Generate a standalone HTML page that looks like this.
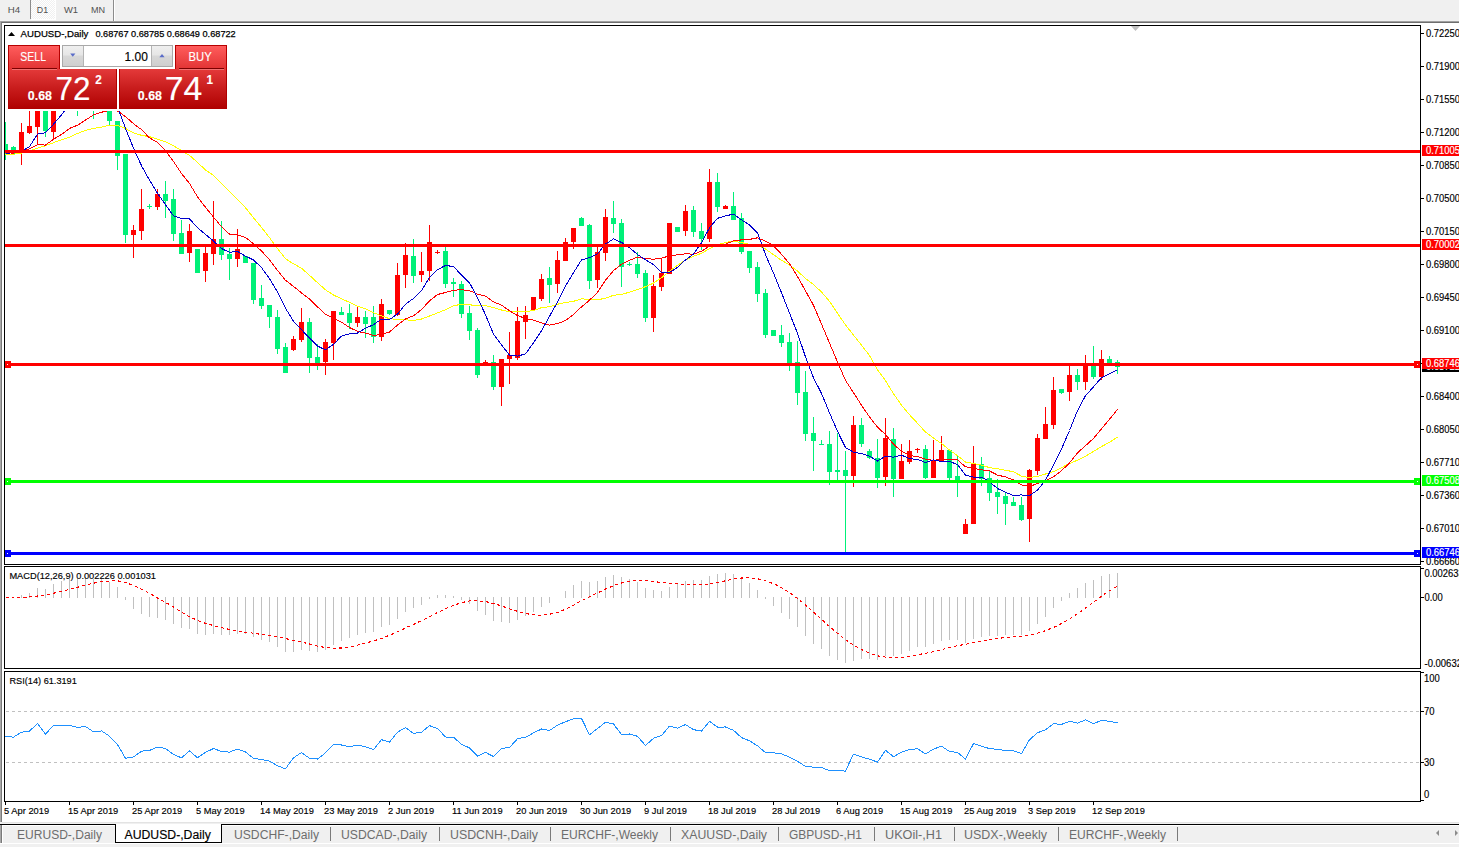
<!DOCTYPE html>
<html><head><meta charset="utf-8"><style>
html,body{margin:0;padding:0;background:#f0f0f0;width:1459px;height:847px;overflow:hidden}
svg{display:block;font-family:"Liberation Sans", sans-serif}
</style></head><body>
<svg width="1459" height="847" viewBox="0 0 1459 847">
<defs>
<pattern id="dith" width="2" height="2" patternUnits="userSpaceOnUse"><rect width="2" height="2" fill="#f0f0f0"/><rect width="1" height="1" fill="#fff"/><rect x="1" y="1" width="1" height="1" fill="#fff"/></pattern>
<clipPath id="clipMain"><rect x="5" y="26" width="1415" height="538"/></clipPath>
<clipPath id="clipMacd"><rect x="5" y="567" width="1415" height="101"/></clipPath>
<clipPath id="clipRsi"><rect x="5" y="672" width="1415" height="129"/></clipPath>
</defs>
<rect x="0" y="0" width="1459" height="847" fill="#f0f0f0"/>
<rect x="31" y="0" width="24" height="19" fill="url(#dith)"/>
<rect x="55" y="0" width="1" height="20" fill="#ffffff"/>
<rect x="31" y="19" width="25" height="1" fill="#ffffff"/>
<rect x="30" y="0" width="1" height="19" fill="#8c8c8c"/>
<rect x="113" y="0" width="1" height="21" fill="#8c8c8c"/>
<rect x="114" y="0" width="1" height="21" fill="#ffffff"/>
<text x="7.8" y="13.2" font-size="9.8" fill="#505050" font-weight="normal" text-anchor="start" textLength="12.4" lengthAdjust="spacingAndGlyphs">H4</text>
<text x="36.8" y="13.2" font-size="9.8" fill="#505050" font-weight="normal" text-anchor="start" textLength="11.3" lengthAdjust="spacingAndGlyphs">D1</text>
<text x="63.9" y="13.2" font-size="9.8" fill="#505050" font-weight="normal" text-anchor="start" textLength="14.1" lengthAdjust="spacingAndGlyphs">W1</text>
<text x="91" y="13.2" font-size="9.8" fill="#505050" font-weight="normal" text-anchor="start" textLength="14.1" lengthAdjust="spacingAndGlyphs">MN</text>
<rect x="0" y="21" width="1459" height="1" fill="#a0a0a0"/>
<rect x="0" y="22" width="1459" height="1" fill="#6e6e6e"/>
<rect x="0" y="21" width="1" height="801" fill="#a8a8a8"/>
<rect x="1" y="22" width="1" height="800" fill="#7a7a7a"/>
<rect x="2" y="23" width="1457" height="799" fill="#ffffff"/>
<g clip-path="url(#clipMain)">
<polygon points="1131,26 1140,26 1135.5,31" fill="#c0c0c0"/>
<rect x="5" y="122" width="1" height="38" fill="#00f078"/>
<rect x="3" y="144" width="5" height="7" fill="#00f078"/>
<rect x="13" y="146" width="1" height="8" fill="#00f078"/>
<rect x="11" y="147" width="5" height="7" fill="#00f078"/>
<rect x="21" y="123" width="1" height="42" fill="#ff0000"/>
<rect x="19" y="132" width="5" height="20" fill="#ff0000"/>
<rect x="29" y="100" width="1" height="34" fill="#ff0000"/>
<rect x="27" y="126" width="5" height="7" fill="#ff0000"/>
<rect x="37" y="60" width="1" height="85" fill="#ff0000"/>
<rect x="35" y="89" width="5" height="38" fill="#ff0000"/>
<rect x="45" y="60" width="1" height="77" fill="#00f078"/>
<rect x="43" y="89" width="5" height="42" fill="#00f078"/>
<rect x="53" y="60" width="1" height="79" fill="#ff0000"/>
<rect x="51" y="84" width="5" height="48" fill="#ff0000"/>
<rect x="109" y="60" width="1" height="65" fill="#00f078"/>
<rect x="107" y="102" width="5" height="19" fill="#00f078"/>
<rect x="117" y="121" width="1" height="49" fill="#00f078"/>
<rect x="115" y="121" width="5" height="35" fill="#00f078"/>
<rect x="125" y="154" width="1" height="89" fill="#00f078"/>
<rect x="123" y="154" width="5" height="81" fill="#00f078"/>
<rect x="133" y="225" width="1" height="33" fill="#ff0000"/>
<rect x="131" y="230" width="5" height="5" fill="#ff0000"/>
<rect x="141" y="189" width="1" height="51" fill="#ff0000"/>
<rect x="139" y="209" width="5" height="22" fill="#ff0000"/>
<rect x="149" y="204" width="1" height="5" fill="#00f078"/>
<rect x="147" y="206" width="5" height="1" fill="#00f078"/>
<rect x="157" y="189" width="1" height="21" fill="#ff0000"/>
<rect x="155" y="194" width="5" height="13" fill="#ff0000"/>
<rect x="165" y="181" width="1" height="37" fill="#00f078"/>
<rect x="163" y="194" width="5" height="7" fill="#00f078"/>
<rect x="173" y="189" width="1" height="52" fill="#00f078"/>
<rect x="171" y="199" width="5" height="35" fill="#00f078"/>
<rect x="181" y="220" width="1" height="34" fill="#00f078"/>
<rect x="179" y="233" width="5" height="21" fill="#00f078"/>
<rect x="189" y="224" width="1" height="38" fill="#ff0000"/>
<rect x="187" y="231" width="5" height="22" fill="#ff0000"/>
<rect x="197" y="249" width="1" height="24" fill="#00f078"/>
<rect x="195" y="249" width="5" height="24" fill="#00f078"/>
<rect x="205" y="247" width="1" height="35" fill="#ff0000"/>
<rect x="203" y="253" width="5" height="18" fill="#ff0000"/>
<rect x="213" y="201" width="1" height="64" fill="#ff0000"/>
<rect x="211" y="239" width="5" height="15" fill="#ff0000"/>
<rect x="221" y="221" width="1" height="39" fill="#00f078"/>
<rect x="219" y="239" width="5" height="16" fill="#00f078"/>
<rect x="229" y="248" width="1" height="32" fill="#00f078"/>
<rect x="227" y="254" width="5" height="5" fill="#00f078"/>
<rect x="237" y="229" width="1" height="38" fill="#ff0000"/>
<rect x="235" y="249" width="5" height="10" fill="#ff0000"/>
<rect x="245" y="256" width="1" height="7" fill="#00f078"/>
<rect x="243" y="256" width="5" height="7" fill="#00f078"/>
<rect x="253" y="263" width="1" height="41" fill="#00f078"/>
<rect x="251" y="263" width="5" height="37" fill="#00f078"/>
<rect x="261" y="285" width="1" height="24" fill="#00f078"/>
<rect x="259" y="298" width="5" height="8" fill="#00f078"/>
<rect x="269" y="305" width="1" height="23" fill="#00f078"/>
<rect x="267" y="305" width="5" height="12" fill="#00f078"/>
<rect x="277" y="310" width="1" height="44" fill="#00f078"/>
<rect x="275" y="317" width="5" height="32" fill="#00f078"/>
<rect x="285" y="343" width="1" height="30" fill="#00f078"/>
<rect x="283" y="347" width="5" height="26" fill="#00f078"/>
<rect x="293" y="336" width="1" height="15" fill="#ff0000"/>
<rect x="291" y="339" width="5" height="11" fill="#ff0000"/>
<rect x="301" y="308" width="1" height="34" fill="#ff0000"/>
<rect x="299" y="322" width="5" height="18" fill="#ff0000"/>
<rect x="309" y="318" width="1" height="55" fill="#00f078"/>
<rect x="307" y="322" width="5" height="36" fill="#00f078"/>
<rect x="317" y="344" width="1" height="26" fill="#00f078"/>
<rect x="315" y="357" width="5" height="6" fill="#00f078"/>
<rect x="325" y="339" width="1" height="36" fill="#ff0000"/>
<rect x="323" y="342" width="5" height="20" fill="#ff0000"/>
<rect x="333" y="311" width="1" height="49" fill="#ff0000"/>
<rect x="331" y="311" width="5" height="32" fill="#ff0000"/>
<rect x="341" y="307" width="1" height="8" fill="#00f078"/>
<rect x="339" y="312" width="5" height="3" fill="#00f078"/>
<rect x="349" y="304" width="1" height="25" fill="#00f078"/>
<rect x="347" y="313" width="5" height="10" fill="#00f078"/>
<rect x="357" y="307" width="1" height="20" fill="#ff0000"/>
<rect x="355" y="317" width="5" height="6" fill="#ff0000"/>
<rect x="365" y="311" width="1" height="27" fill="#00f078"/>
<rect x="363" y="317" width="5" height="7" fill="#00f078"/>
<rect x="373" y="306" width="1" height="37" fill="#00f078"/>
<rect x="371" y="317" width="5" height="20" fill="#00f078"/>
<rect x="381" y="299" width="1" height="42" fill="#ff0000"/>
<rect x="379" y="304" width="5" height="33" fill="#ff0000"/>
<rect x="389" y="310" width="1" height="5" fill="#00f078"/>
<rect x="387" y="310" width="5" height="4" fill="#00f078"/>
<rect x="397" y="263" width="1" height="53" fill="#ff0000"/>
<rect x="395" y="275" width="5" height="40" fill="#ff0000"/>
<rect x="405" y="243" width="1" height="45" fill="#ff0000"/>
<rect x="403" y="255" width="5" height="20" fill="#ff0000"/>
<rect x="413" y="239" width="1" height="44" fill="#00f078"/>
<rect x="411" y="256" width="5" height="20" fill="#00f078"/>
<rect x="421" y="252" width="1" height="30" fill="#ff0000"/>
<rect x="419" y="271" width="5" height="4" fill="#ff0000"/>
<rect x="429" y="225" width="1" height="56" fill="#ff0000"/>
<rect x="427" y="242" width="5" height="29" fill="#ff0000"/>
<rect x="437" y="250" width="1" height="4" fill="#ff0000"/>
<rect x="435" y="252" width="5" height="1" fill="#ff0000"/>
<rect x="445" y="247" width="1" height="41" fill="#00f078"/>
<rect x="443" y="251" width="5" height="33" fill="#00f078"/>
<rect x="453" y="278" width="1" height="19" fill="#00f078"/>
<rect x="451" y="282" width="5" height="2" fill="#00f078"/>
<rect x="461" y="281" width="1" height="37" fill="#00f078"/>
<rect x="459" y="284" width="5" height="30" fill="#00f078"/>
<rect x="469" y="306" width="1" height="34" fill="#00f078"/>
<rect x="467" y="313" width="5" height="18" fill="#00f078"/>
<rect x="477" y="328" width="1" height="50" fill="#00f078"/>
<rect x="475" y="330" width="5" height="45" fill="#00f078"/>
<rect x="485" y="360" width="1" height="5" fill="#ff0000"/>
<rect x="483" y="362" width="5" height="3" fill="#ff0000"/>
<rect x="493" y="355" width="1" height="35" fill="#00f078"/>
<rect x="491" y="362" width="5" height="25" fill="#00f078"/>
<rect x="501" y="359" width="1" height="47" fill="#ff0000"/>
<rect x="499" y="359" width="5" height="28" fill="#ff0000"/>
<rect x="509" y="332" width="1" height="52" fill="#ff0000"/>
<rect x="507" y="355" width="5" height="4" fill="#ff0000"/>
<rect x="517" y="307" width="1" height="53" fill="#ff0000"/>
<rect x="515" y="321" width="5" height="37" fill="#ff0000"/>
<rect x="525" y="306" width="1" height="33" fill="#ff0000"/>
<rect x="523" y="315" width="5" height="7" fill="#ff0000"/>
<rect x="533" y="297" width="1" height="13" fill="#ff0000"/>
<rect x="531" y="297" width="5" height="13" fill="#ff0000"/>
<rect x="541" y="274" width="1" height="27" fill="#ff0000"/>
<rect x="539" y="279" width="5" height="20" fill="#ff0000"/>
<rect x="549" y="267" width="1" height="36" fill="#00f078"/>
<rect x="547" y="278" width="5" height="7" fill="#00f078"/>
<rect x="557" y="251" width="1" height="42" fill="#ff0000"/>
<rect x="555" y="260" width="5" height="24" fill="#ff0000"/>
<rect x="565" y="238" width="1" height="23" fill="#ff0000"/>
<rect x="563" y="242" width="5" height="19" fill="#ff0000"/>
<rect x="573" y="228" width="1" height="21" fill="#ff0000"/>
<rect x="571" y="228" width="5" height="14" fill="#ff0000"/>
<rect x="581" y="217" width="1" height="9" fill="#00f078"/>
<rect x="579" y="218" width="5" height="8" fill="#00f078"/>
<rect x="589" y="224" width="1" height="65" fill="#00f078"/>
<rect x="587" y="225" width="5" height="56" fill="#00f078"/>
<rect x="597" y="247" width="1" height="41" fill="#ff0000"/>
<rect x="595" y="252" width="5" height="28" fill="#ff0000"/>
<rect x="605" y="209" width="1" height="52" fill="#ff0000"/>
<rect x="603" y="217" width="5" height="36" fill="#ff0000"/>
<rect x="613" y="201" width="1" height="32" fill="#00f078"/>
<rect x="611" y="218" width="5" height="6" fill="#00f078"/>
<rect x="621" y="219" width="1" height="68" fill="#00f078"/>
<rect x="619" y="223" width="5" height="44" fill="#00f078"/>
<rect x="629" y="262" width="1" height="4" fill="#00f078"/>
<rect x="627" y="264" width="5" height="1" fill="#00f078"/>
<rect x="637" y="252" width="1" height="26" fill="#00f078"/>
<rect x="635" y="264" width="5" height="10" fill="#00f078"/>
<rect x="645" y="270" width="1" height="52" fill="#00f078"/>
<rect x="643" y="273" width="5" height="45" fill="#00f078"/>
<rect x="653" y="275" width="1" height="57" fill="#ff0000"/>
<rect x="651" y="286" width="5" height="32" fill="#ff0000"/>
<rect x="661" y="259" width="1" height="32" fill="#ff0000"/>
<rect x="659" y="273" width="5" height="14" fill="#ff0000"/>
<rect x="669" y="223" width="1" height="51" fill="#ff0000"/>
<rect x="667" y="223" width="5" height="51" fill="#ff0000"/>
<rect x="677" y="227" width="1" height="5" fill="#00f078"/>
<rect x="675" y="227" width="5" height="5" fill="#00f078"/>
<rect x="685" y="205" width="1" height="31" fill="#ff0000"/>
<rect x="683" y="211" width="5" height="20" fill="#ff0000"/>
<rect x="693" y="206" width="1" height="31" fill="#00f078"/>
<rect x="691" y="210" width="5" height="22" fill="#00f078"/>
<rect x="701" y="223" width="1" height="27" fill="#00f078"/>
<rect x="699" y="231" width="5" height="8" fill="#00f078"/>
<rect x="709" y="169" width="1" height="73" fill="#ff0000"/>
<rect x="707" y="182" width="5" height="57" fill="#ff0000"/>
<rect x="717" y="173" width="1" height="39" fill="#00f078"/>
<rect x="715" y="182" width="5" height="25" fill="#00f078"/>
<rect x="725" y="205" width="1" height="4" fill="#ff0000"/>
<rect x="723" y="206" width="5" height="3" fill="#ff0000"/>
<rect x="733" y="192" width="1" height="28" fill="#00f078"/>
<rect x="731" y="206" width="5" height="14" fill="#00f078"/>
<rect x="741" y="213" width="1" height="41" fill="#00f078"/>
<rect x="739" y="218" width="5" height="34" fill="#00f078"/>
<rect x="749" y="251" width="1" height="22" fill="#00f078"/>
<rect x="747" y="251" width="5" height="17" fill="#00f078"/>
<rect x="757" y="262" width="1" height="40" fill="#00f078"/>
<rect x="755" y="267" width="5" height="27" fill="#00f078"/>
<rect x="765" y="289" width="1" height="49" fill="#00f078"/>
<rect x="763" y="293" width="5" height="42" fill="#00f078"/>
<rect x="773" y="330" width="1" height="6" fill="#00f078"/>
<rect x="771" y="330" width="5" height="6" fill="#00f078"/>
<rect x="781" y="325" width="1" height="22" fill="#00f078"/>
<rect x="779" y="335" width="5" height="8" fill="#00f078"/>
<rect x="789" y="333" width="1" height="38" fill="#00f078"/>
<rect x="787" y="342" width="5" height="21" fill="#00f078"/>
<rect x="797" y="341" width="1" height="64" fill="#00f078"/>
<rect x="795" y="362" width="5" height="31" fill="#00f078"/>
<rect x="805" y="371" width="1" height="70" fill="#00f078"/>
<rect x="803" y="392" width="5" height="42" fill="#00f078"/>
<rect x="813" y="417" width="1" height="54" fill="#00f078"/>
<rect x="811" y="433" width="5" height="8" fill="#00f078"/>
<rect x="821" y="440" width="1" height="5" fill="#00f078"/>
<rect x="819" y="444" width="5" height="1" fill="#00f078"/>
<rect x="829" y="431" width="1" height="54" fill="#00f078"/>
<rect x="827" y="444" width="5" height="28" fill="#00f078"/>
<rect x="837" y="433" width="1" height="49" fill="#00f078"/>
<rect x="835" y="470" width="5" height="2" fill="#00f078"/>
<rect x="845" y="451" width="1" height="102" fill="#00f078"/>
<rect x="843" y="470" width="5" height="6" fill="#00f078"/>
<rect x="853" y="416" width="1" height="71" fill="#ff0000"/>
<rect x="851" y="425" width="5" height="51" fill="#ff0000"/>
<rect x="861" y="418" width="1" height="29" fill="#00f078"/>
<rect x="859" y="425" width="5" height="19" fill="#00f078"/>
<rect x="869" y="449" width="1" height="10" fill="#00f078"/>
<rect x="867" y="451" width="5" height="7" fill="#00f078"/>
<rect x="877" y="439" width="1" height="49" fill="#00f078"/>
<rect x="875" y="458" width="5" height="20" fill="#00f078"/>
<rect x="885" y="418" width="1" height="68" fill="#ff0000"/>
<rect x="883" y="438" width="5" height="39" fill="#ff0000"/>
<rect x="893" y="428" width="1" height="69" fill="#00f078"/>
<rect x="891" y="439" width="5" height="40" fill="#00f078"/>
<rect x="901" y="444" width="1" height="35" fill="#ff0000"/>
<rect x="899" y="461" width="5" height="18" fill="#ff0000"/>
<rect x="909" y="440" width="1" height="24" fill="#ff0000"/>
<rect x="907" y="451" width="5" height="11" fill="#ff0000"/>
<rect x="917" y="448" width="1" height="5" fill="#ff0000"/>
<rect x="915" y="449" width="5" height="1" fill="#ff0000"/>
<rect x="925" y="445" width="1" height="34" fill="#00f078"/>
<rect x="923" y="449" width="5" height="29" fill="#00f078"/>
<rect x="933" y="440" width="1" height="38" fill="#ff0000"/>
<rect x="931" y="460" width="5" height="18" fill="#ff0000"/>
<rect x="941" y="436" width="1" height="25" fill="#ff0000"/>
<rect x="939" y="450" width="5" height="11" fill="#ff0000"/>
<rect x="949" y="449" width="1" height="31" fill="#00f078"/>
<rect x="947" y="450" width="5" height="28" fill="#00f078"/>
<rect x="957" y="456" width="1" height="41" fill="#00f078"/>
<rect x="955" y="476" width="5" height="7" fill="#00f078"/>
<rect x="965" y="519" width="1" height="15" fill="#ff0000"/>
<rect x="963" y="524" width="5" height="10" fill="#ff0000"/>
<rect x="973" y="446" width="1" height="78" fill="#ff0000"/>
<rect x="971" y="464" width="5" height="60" fill="#ff0000"/>
<rect x="981" y="457" width="1" height="29" fill="#00f078"/>
<rect x="979" y="464" width="5" height="15" fill="#00f078"/>
<rect x="989" y="471" width="1" height="30" fill="#00f078"/>
<rect x="987" y="478" width="5" height="15" fill="#00f078"/>
<rect x="997" y="479" width="1" height="35" fill="#00f078"/>
<rect x="995" y="492" width="5" height="5" fill="#00f078"/>
<rect x="1005" y="492" width="1" height="33" fill="#00f078"/>
<rect x="1003" y="496" width="5" height="8" fill="#00f078"/>
<rect x="1013" y="497" width="1" height="9" fill="#00f078"/>
<rect x="1011" y="502" width="5" height="4" fill="#00f078"/>
<rect x="1021" y="497" width="1" height="24" fill="#00f078"/>
<rect x="1019" y="505" width="5" height="15" fill="#00f078"/>
<rect x="1029" y="469" width="1" height="73" fill="#ff0000"/>
<rect x="1027" y="470" width="5" height="49" fill="#ff0000"/>
<rect x="1037" y="434" width="1" height="41" fill="#ff0000"/>
<rect x="1035" y="438" width="5" height="33" fill="#ff0000"/>
<rect x="1045" y="407" width="1" height="32" fill="#ff0000"/>
<rect x="1043" y="424" width="5" height="15" fill="#ff0000"/>
<rect x="1053" y="377" width="1" height="52" fill="#ff0000"/>
<rect x="1051" y="390" width="5" height="35" fill="#ff0000"/>
<rect x="1061" y="389" width="1" height="5" fill="#00f078"/>
<rect x="1059" y="389" width="5" height="4" fill="#00f078"/>
<rect x="1069" y="366" width="1" height="35" fill="#ff0000"/>
<rect x="1067" y="375" width="5" height="17" fill="#ff0000"/>
<rect x="1077" y="369" width="1" height="21" fill="#00f078"/>
<rect x="1075" y="375" width="5" height="7" fill="#00f078"/>
<rect x="1085" y="355" width="1" height="35" fill="#ff0000"/>
<rect x="1083" y="364" width="5" height="18" fill="#ff0000"/>
<rect x="1093" y="346" width="1" height="33" fill="#00f078"/>
<rect x="1091" y="366" width="5" height="11" fill="#00f078"/>
<rect x="1101" y="350" width="1" height="30" fill="#ff0000"/>
<rect x="1099" y="359" width="5" height="18" fill="#ff0000"/>
<rect x="1109" y="356" width="1" height="7" fill="#00f078"/>
<rect x="1107" y="359" width="5" height="4" fill="#00f078"/>
<rect x="1117" y="360" width="1" height="14" fill="#00f078"/>
<rect x="1115" y="362" width="5" height="5" fill="#00f078"/>
<rect x="61" y="78" width="1" height="10" fill="#ff0000"/>
<rect x="59" y="84" width="5" height="1" fill="#ff0000"/>
<rect x="69" y="78" width="1" height="10" fill="#ff0000"/>
<rect x="67" y="84" width="5" height="1" fill="#ff0000"/>
<rect x="77" y="78" width="1" height="38" fill="#00f078"/>
<rect x="75" y="84" width="5" height="8" fill="#00f078"/>
<rect x="85" y="81" width="1" height="14" fill="#ff0000"/>
<rect x="83" y="87" width="5" height="5" fill="#ff0000"/>
<rect x="93" y="81" width="1" height="38" fill="#00f078"/>
<rect x="91" y="87" width="5" height="19" fill="#00f078"/>
<rect x="101" y="96" width="1" height="13" fill="#ff0000"/>
<rect x="99" y="102" width="5" height="4" fill="#ff0000"/>
<g shape-rendering="crispEdges">
<polyline points="5.5,155.0 13.5,154.2 21.5,153.2 29.5,150.8 37.5,148.1 45.5,145.7 53.5,142.7 61.5,139.8 69.5,137.1 77.5,133.5 85.5,130.4 93.5,128.4 101.5,127.2 109.5,125.1 117.5,125.3 125.5,128.4 133.5,132.9 141.5,135.3 149.5,136.7 157.5,139.2 165.5,141.9 173.5,145.9 181.5,150.6 189.5,155.4 197.5,162.3 205.5,170.1 213.5,175.3 221.5,183.4 229.5,191.7 237.5,199.5 245.5,207.7 253.5,217.8 261.5,227.4 269.5,237.6 277.5,248.5 285.5,258.8 293.5,263.8 301.5,268.2 309.5,275.3 317.5,282.7 325.5,289.8 333.5,295.0 341.5,298.9 349.5,302.2 357.5,306.3 365.5,308.8 373.5,312.8 381.5,315.9 389.5,318.7 397.5,319.5 405.5,319.8 413.5,320.4 421.5,319.0 429.5,316.0 437.5,312.9 445.5,309.8 453.5,305.6 461.5,304.4 469.5,304.8 477.5,305.6 485.5,305.6 493.5,307.7 501.5,310.0 509.5,311.9 517.5,311.8 525.5,311.7 533.5,310.4 541.5,307.7 549.5,306.7 557.5,304.2 565.5,302.6 573.5,301.3 581.5,298.9 589.5,299.3 597.5,299.8 605.5,298.2 613.5,295.3 621.5,294.5 629.5,292.1 637.5,289.4 645.5,286.7 653.5,283.1 661.5,277.7 669.5,271.2 677.5,265.3 685.5,260.1 693.5,256.1 701.5,253.3 709.5,248.7 717.5,245.0 725.5,242.4 733.5,241.3 741.5,242.5 749.5,244.5 757.5,245.1 765.5,249.0 773.5,254.7 781.5,260.3 789.5,264.9 797.5,271.0 805.5,278.6 813.5,284.5 821.5,292.0 829.5,301.4 837.5,313.3 845.5,324.9 853.5,335.1 861.5,345.1 869.5,355.6 877.5,369.7 885.5,380.7 893.5,393.7 901.5,405.2 909.5,414.7 917.5,423.3 925.5,432.1 933.5,438.1 941.5,443.5 949.5,450.0 957.5,455.7 965.5,462.0 973.5,463.4 981.5,465.2 989.5,467.6 997.5,468.8 1005.5,470.3 1013.5,471.7 1021.5,476.2 1029.5,477.5 1037.5,476.5 1045.5,474.0 1053.5,471.7 1061.5,467.6 1069.5,463.5 1077.5,460.2 1085.5,456.2 1093.5,451.4 1101.5,446.5 1109.5,442.4 1117.5,437.1" fill="none" stroke="#ffff00" stroke-width="1"/>
<polyline points="5.5,152.3 13.5,153.3 21.5,150.8 29.5,148.9 37.5,144.7 45.5,145.1 53.5,139.2 61.5,134.4 69.5,128.4 77.5,125.2 85.5,120.1 93.5,114.9 101.5,112.2 109.5,110.6 117.5,110.9 125.5,116.6 133.5,123.7 141.5,129.6 149.5,137.9 157.5,142.4 165.5,150.8 173.5,161.4 181.5,173.5 189.5,183.5 197.5,196.8 205.5,207.3 213.5,217.1 221.5,226.7 229.5,234.1 237.5,235.1 245.5,237.4 253.5,243.9 261.5,251.0 269.5,259.8 277.5,270.4 285.5,280.3 293.5,286.4 301.5,292.9 309.5,299.0 317.5,306.9 325.5,314.2 333.5,318.2 341.5,322.2 349.5,327.5 357.5,331.4 365.5,333.1 373.5,335.4 381.5,334.5 389.5,332.0 397.5,325.1 405.5,319.0 413.5,315.7 421.5,309.6 429.5,300.9 437.5,294.5 445.5,292.5 453.5,290.3 461.5,289.7 469.5,290.6 477.5,294.2 485.5,296.1 493.5,301.9 501.5,305.1 509.5,310.8 517.5,315.6 525.5,318.4 533.5,320.2 541.5,322.8 549.5,325.2 557.5,323.5 565.5,320.6 573.5,314.4 581.5,306.9 589.5,300.2 597.5,292.3 605.5,280.2 613.5,270.6 621.5,264.2 629.5,260.2 637.5,257.2 645.5,258.6 653.5,259.2 661.5,258.3 669.5,255.7 677.5,254.9 685.5,253.8 693.5,254.2 701.5,251.2 709.5,246.2 717.5,245.4 725.5,244.2 733.5,240.8 741.5,239.9 749.5,239.4 757.5,237.8 765.5,241.2 773.5,245.7 781.5,254.3 789.5,263.6 797.5,276.5 805.5,290.9 813.5,305.3 821.5,324.0 829.5,343.0 837.5,362.0 845.5,380.3 853.5,392.7 861.5,405.2 869.5,417.0 877.5,427.2 885.5,434.5 893.5,444.2 901.5,451.3 909.5,455.5 917.5,456.6 925.5,459.2 933.5,460.4 941.5,458.9 949.5,459.3 957.5,459.8 965.5,466.8 973.5,468.3 981.5,469.8 989.5,470.9 997.5,475.1 1005.5,476.9 1013.5,480.0 1021.5,484.9 1029.5,486.4 1037.5,483.6 1045.5,481.0 1053.5,476.7 1061.5,470.7 1069.5,463.0 1077.5,452.8 1085.5,445.7 1093.5,438.4 1101.5,428.9 1109.5,419.3 1117.5,409.5" fill="none" stroke="#ff0000" stroke-width="1"/>
<polyline points="5.5,154.1 13.5,152.0 21.5,151.3 29.5,146.7 37.5,134.1 45.5,132.7 53.5,124.3 61.5,114.8 69.5,104.9 77.5,99.1 85.5,93.4 93.5,95.8 101.5,91.6 109.5,96.8 117.5,106.9 125.5,128.4 133.5,148.2 141.5,165.7 149.5,180.1 157.5,193.3 165.5,204.7 173.5,215.9 181.5,218.6 189.5,218.8 197.5,227.8 205.5,234.5 213.5,240.9 221.5,248.6 229.5,252.2 237.5,251.5 245.5,256.1 253.5,260.0 261.5,267.6 269.5,278.6 277.5,292.1 285.5,308.3 293.5,321.2 301.5,329.7 309.5,338.0 317.5,346.1 325.5,349.8 333.5,344.4 341.5,336.1 349.5,333.8 357.5,333.1 365.5,328.3 373.5,324.6 381.5,319.2 389.5,319.6 397.5,314.0 405.5,304.3 413.5,298.4 421.5,290.8 429.5,277.3 437.5,269.8 445.5,265.4 453.5,266.6 461.5,275.0 469.5,282.8 477.5,297.6 485.5,314.8 493.5,334.1 501.5,344.9 509.5,355.1 517.5,356.1 525.5,353.9 533.5,342.8 541.5,330.9 549.5,316.3 557.5,302.2 565.5,286.0 573.5,272.7 581.5,259.9 589.5,257.6 597.5,253.7 605.5,244.1 613.5,238.9 621.5,242.4 629.5,247.6 637.5,254.5 645.5,259.7 653.5,264.6 661.5,272.6 669.5,272.5 677.5,267.4 685.5,259.9 693.5,253.9 701.5,242.7 709.5,227.8 717.5,218.3 725.5,215.9 733.5,214.1 741.5,219.9 749.5,224.9 757.5,232.8 765.5,254.6 773.5,273.1 781.5,292.7 789.5,313.1 797.5,333.2 805.5,356.9 813.5,377.8 821.5,393.4 829.5,412.9 837.5,431.3 845.5,447.5 853.5,452.2 861.5,453.6 869.5,456.1 877.5,461.0 885.5,456.2 893.5,457.2 901.5,455.1 909.5,458.7 917.5,459.5 925.5,462.4 933.5,459.9 941.5,461.6 949.5,461.5 957.5,464.5 965.5,475.0 973.5,477.1 981.5,477.2 989.5,481.8 997.5,488.5 1005.5,492.3 1013.5,495.5 1021.5,494.9 1029.5,495.8 1037.5,490.0 1045.5,480.2 1053.5,464.9 1061.5,449.1 1069.5,430.5 1077.5,410.7 1085.5,395.7 1093.5,386.9 1101.5,377.6 1109.5,373.7 1117.5,369.9" fill="none" stroke="#0000cc" stroke-width="1"/>
</g>
<rect x="4" y="150" width="1417" height="3" fill="#ff0000"/>
<rect x="4" y="244" width="1417" height="3" fill="#ff0000"/>
<rect x="4" y="363" width="1417" height="3" fill="#ff0000"/>
<rect x="4" y="361" width="7" height="7" fill="#ff0000"/>
<rect x="7" y="364" width="1" height="1" fill="#fff"/>
<rect x="1414" y="361" width="7" height="7" fill="#ff0000"/>
<rect x="1417" y="364" width="1" height="1" fill="#fff"/>
<rect x="4" y="480" width="1417" height="3" fill="#00ff00"/>
<rect x="4" y="478" width="7" height="7" fill="#00ff00"/>
<rect x="7" y="481" width="1" height="1" fill="#fff"/>
<rect x="1414" y="478" width="7" height="7" fill="#00ff00"/>
<rect x="1417" y="481" width="1" height="1" fill="#fff"/>
<rect x="4" y="552" width="1417" height="3" fill="#0000ff"/>
<rect x="4" y="550" width="7" height="7" fill="#0000ff"/>
<rect x="7" y="553" width="1" height="1" fill="#fff"/>
<rect x="1414" y="550" width="7" height="7" fill="#0000ff"/>
<rect x="1417" y="553" width="1" height="1" fill="#fff"/>
</g>
<rect x="4" y="25" width="1417" height="1" fill="#000"/>
<rect x="4" y="564" width="1417" height="1" fill="#000"/>
<rect x="4" y="25" width="1" height="540" fill="#000"/>
<rect x="1420" y="25" width="1" height="540" fill="#000"/>
<rect x="4" y="566" width="1417" height="1" fill="#000"/>
<rect x="4" y="668" width="1417" height="1" fill="#000"/>
<rect x="4" y="566" width="1" height="103" fill="#000"/>
<rect x="1420" y="566" width="1" height="103" fill="#000"/>
<rect x="4" y="671" width="1417" height="1" fill="#000"/>
<rect x="4" y="801" width="1417" height="1" fill="#000"/>
<rect x="4" y="671" width="1" height="131" fill="#000"/>
<rect x="1420" y="671" width="1" height="131" fill="#000"/>
<rect x="1421" y="33" width="3" height="1" fill="#000"/>
<text x="1426" y="37.1" font-size="10" fill="#000" font-weight="normal" text-anchor="start" textLength="34" lengthAdjust="spacingAndGlyphs" stroke="#000" stroke-width="0.15">0.72250</text>
<rect x="1421" y="66" width="3" height="1" fill="#000"/>
<text x="1426" y="70.1" font-size="10" fill="#000" font-weight="normal" text-anchor="start" textLength="34" lengthAdjust="spacingAndGlyphs" stroke="#000" stroke-width="0.15">0.71900</text>
<rect x="1421" y="99" width="3" height="1" fill="#000"/>
<text x="1426" y="103.1" font-size="10" fill="#000" font-weight="normal" text-anchor="start" textLength="34" lengthAdjust="spacingAndGlyphs" stroke="#000" stroke-width="0.15">0.71550</text>
<rect x="1421" y="132" width="3" height="1" fill="#000"/>
<text x="1426" y="136.1" font-size="10" fill="#000" font-weight="normal" text-anchor="start" textLength="34" lengthAdjust="spacingAndGlyphs" stroke="#000" stroke-width="0.15">0.71200</text>
<rect x="1421" y="165" width="3" height="1" fill="#000"/>
<text x="1426" y="169.1" font-size="10" fill="#000" font-weight="normal" text-anchor="start" textLength="34" lengthAdjust="spacingAndGlyphs" stroke="#000" stroke-width="0.15">0.70850</text>
<rect x="1421" y="198" width="3" height="1" fill="#000"/>
<text x="1426" y="202.1" font-size="10" fill="#000" font-weight="normal" text-anchor="start" textLength="34" lengthAdjust="spacingAndGlyphs" stroke="#000" stroke-width="0.15">0.70500</text>
<rect x="1421" y="231" width="3" height="1" fill="#000"/>
<text x="1426" y="235.1" font-size="10" fill="#000" font-weight="normal" text-anchor="start" textLength="34" lengthAdjust="spacingAndGlyphs" stroke="#000" stroke-width="0.15">0.70150</text>
<rect x="1421" y="264" width="3" height="1" fill="#000"/>
<text x="1426" y="268.1" font-size="10" fill="#000" font-weight="normal" text-anchor="start" textLength="34" lengthAdjust="spacingAndGlyphs" stroke="#000" stroke-width="0.15">0.69800</text>
<rect x="1421" y="297" width="3" height="1" fill="#000"/>
<text x="1426" y="301.1" font-size="10" fill="#000" font-weight="normal" text-anchor="start" textLength="34" lengthAdjust="spacingAndGlyphs" stroke="#000" stroke-width="0.15">0.69450</text>
<rect x="1421" y="330" width="3" height="1" fill="#000"/>
<text x="1426" y="334.1" font-size="10" fill="#000" font-weight="normal" text-anchor="start" textLength="34" lengthAdjust="spacingAndGlyphs" stroke="#000" stroke-width="0.15">0.69100</text>
<rect x="1421" y="363" width="3" height="1" fill="#000"/>
<text x="1426" y="367.1" font-size="10" fill="#000" font-weight="normal" text-anchor="start" textLength="34" lengthAdjust="spacingAndGlyphs" stroke="#000" stroke-width="0.15">0.68750</text>
<rect x="1421" y="396" width="3" height="1" fill="#000"/>
<text x="1426" y="400.1" font-size="10" fill="#000" font-weight="normal" text-anchor="start" textLength="34" lengthAdjust="spacingAndGlyphs" stroke="#000" stroke-width="0.15">0.68400</text>
<rect x="1421" y="429" width="3" height="1" fill="#000"/>
<text x="1426" y="433.1" font-size="10" fill="#000" font-weight="normal" text-anchor="start" textLength="34" lengthAdjust="spacingAndGlyphs" stroke="#000" stroke-width="0.15">0.68050</text>
<rect x="1421" y="462" width="3" height="1" fill="#000"/>
<text x="1426" y="466.1" font-size="10" fill="#000" font-weight="normal" text-anchor="start" textLength="34" lengthAdjust="spacingAndGlyphs" stroke="#000" stroke-width="0.15">0.67710</text>
<rect x="1421" y="495" width="3" height="1" fill="#000"/>
<text x="1426" y="499.1" font-size="10" fill="#000" font-weight="normal" text-anchor="start" textLength="34" lengthAdjust="spacingAndGlyphs" stroke="#000" stroke-width="0.15">0.67360</text>
<rect x="1421" y="528" width="3" height="1" fill="#000"/>
<text x="1426" y="532.1" font-size="10" fill="#000" font-weight="normal" text-anchor="start" textLength="34" lengthAdjust="spacingAndGlyphs" stroke="#000" stroke-width="0.15">0.67010</text>
<rect x="1421" y="561" width="3" height="1" fill="#000"/>
<text x="1426" y="565.1" font-size="10" fill="#000" font-weight="normal" text-anchor="start" textLength="34" lengthAdjust="spacingAndGlyphs" stroke="#000" stroke-width="0.15">0.66660</text>
<rect x="1422" y="361" width="37" height="11" fill="#000000"/>
<text x="1426" y="370.1" font-size="10" fill="#fff" font-weight="normal" text-anchor="start" textLength="34" lengthAdjust="spacingAndGlyphs" stroke="#fff" stroke-width="0.15">0.68722</text>
<rect x="1422" y="145" width="37" height="11" fill="#ff0000"/>
<text x="1426" y="154.1" font-size="10" fill="#fff" font-weight="normal" text-anchor="start" textLength="34" lengthAdjust="spacingAndGlyphs" stroke="#fff" stroke-width="0.15">0.71005</text>
<rect x="1422" y="239" width="37" height="11" fill="#ff0000"/>
<text x="1426" y="248.1" font-size="10" fill="#fff" font-weight="normal" text-anchor="start" textLength="34" lengthAdjust="spacingAndGlyphs" stroke="#fff" stroke-width="0.15">0.70002</text>
<rect x="1422" y="358" width="37" height="11" fill="#ff0000"/>
<text x="1426" y="367.1" font-size="10" fill="#fff" font-weight="normal" text-anchor="start" textLength="34" lengthAdjust="spacingAndGlyphs" stroke="#fff" stroke-width="0.15">0.68746</text>
<rect x="1422" y="475" width="37" height="11" fill="#00ff00"/>
<text x="1426" y="484.1" font-size="10" fill="#fff" font-weight="normal" text-anchor="start" textLength="34" lengthAdjust="spacingAndGlyphs" stroke="#fff" stroke-width="0.15">0.67508</text>
<rect x="1422" y="547" width="37" height="11" fill="#0000ff"/>
<text x="1426" y="556.1" font-size="10" fill="#fff" font-weight="normal" text-anchor="start" textLength="34" lengthAdjust="spacingAndGlyphs" stroke="#fff" stroke-width="0.15">0.66746</text>
<polygon points="8,36 15,36 11.5,32" fill="#000"/>
<text x="20.6" y="36.6" font-size="9.8" fill="#000" font-weight="normal" text-anchor="start" textLength="67.8" lengthAdjust="spacingAndGlyphs" stroke="#000" stroke-width="0.25">AUDUSD-,Daily</text>
<text x="95.4" y="36.6" font-size="9.8" fill="#000" font-weight="normal" text-anchor="start" textLength="140.3" lengthAdjust="spacingAndGlyphs" stroke="#000" stroke-width="0.25">0.68767 0.68785 0.68649 0.68722</text>
<defs>
<linearGradient id="gBtn" x1="0" y1="0" x2="0" y2="1"><stop offset="0" stop-color="#ff5c5c"/><stop offset="1" stop-color="#e23434"/></linearGradient>
<linearGradient id="gBox" x1="0" y1="0" x2="0" y2="1"><stop offset="0" stop-color="#e43a3a"/><stop offset="0.5" stop-color="#c81c1c"/><stop offset="1" stop-color="#b00202"/></linearGradient>
<linearGradient id="gArr" x1="0" y1="0" x2="0" y2="1"><stop offset="0" stop-color="#efefef"/><stop offset="0.45" stop-color="#e6e6e6"/><stop offset="0.5" stop-color="#d8d8d8"/><stop offset="1" stop-color="#cfcfcf"/></linearGradient>
</defs>
<rect x="8" y="40" width="220" height="71" fill="#ffffff"/>
<rect x="8" y="45" width="52" height="24" fill="#b60000"/>
<rect x="9" y="46" width="50" height="23" fill="url(#gBtn)"/>
<rect x="175" y="45" width="52" height="24" fill="#b60000"/>
<rect x="176" y="46" width="50" height="23" fill="url(#gBtn)"/>
<rect x="8" y="69" width="109" height="40" fill="#b00000"/>
<rect x="9" y="69" width="107" height="39" fill="url(#gBox)"/>
<rect x="119" y="69" width="108" height="40" fill="#b00000"/>
<rect x="120" y="69" width="106" height="39" fill="url(#gBox)"/>
<rect x="12" y="68" width="45" height="1" fill="#7a0000"/>
<rect x="12" y="69" width="45" height="1" fill="#f07070"/>
<rect x="179" y="68" width="45" height="1" fill="#7a0000"/>
<rect x="179" y="69" width="45" height="1" fill="#f07070"/>
<rect x="62" y="45" width="111" height="22" fill="#a9a9a9"/>
<rect x="63" y="46" width="109" height="20" fill="#ffffff"/>
<rect x="63" y="46" width="20" height="20" fill="url(#gArr)"/>
<rect x="83" y="46" width="1" height="20" fill="#b4b4b4"/>
<rect x="152" y="46" width="20" height="20" fill="url(#gArr)"/>
<rect x="151" y="46" width="1" height="20" fill="#b4b4b4"/>
<polygon points="70.2,53.6 75.4,53.6 72.8,56.8" fill="#5a6cc8"/>
<polygon points="159.4,57.2 164.6,57.2 162,54" fill="#5a6cc8"/>
<text x="124.5" y="60.6" font-size="12.3" fill="#000" font-weight="normal" text-anchor="start" textLength="23.3" lengthAdjust="spacingAndGlyphs" stroke="#000" stroke-width="0.15">1.00</text>
<text x="20.3" y="61.4" font-size="12.5" fill="#ffffff" font-weight="normal" text-anchor="start" textLength="25.7" lengthAdjust="spacingAndGlyphs" stroke="#ffffff" stroke-width="0.15">SELL</text>
<text x="188.6" y="61.2" font-size="12.5" fill="#ffffff" font-weight="normal" text-anchor="start" textLength="23.1" lengthAdjust="spacingAndGlyphs" stroke="#ffffff" stroke-width="0.15">BUY</text>
<text x="27.8" y="100.3" font-size="12.6" fill="#ffffff" font-weight="bold" text-anchor="start" textLength="24.2" lengthAdjust="spacingAndGlyphs" stroke="#ffffff" stroke-width="0.15">0.68</text>
<text x="137.8" y="100.3" font-size="12.6" fill="#ffffff" font-weight="bold" text-anchor="start" textLength="24.2" lengthAdjust="spacingAndGlyphs" stroke="#ffffff" stroke-width="0.15">0.68</text>
<text x="55.6" y="100.3" font-size="33" fill="#ffffff" font-weight="normal" text-anchor="start" textLength="35" lengthAdjust="spacingAndGlyphs" stroke="#ffffff" stroke-width="0.15">72</text>
<text x="164.8" y="100.3" font-size="33" fill="#ffffff" font-weight="normal" text-anchor="start" textLength="37.5" lengthAdjust="spacingAndGlyphs" stroke="#ffffff" stroke-width="0.15">74</text>
<text x="95.2" y="83.9" font-size="12" fill="#ffffff" font-weight="bold" text-anchor="start" textLength="6.5" lengthAdjust="spacingAndGlyphs" stroke="#ffffff" stroke-width="0.15">2</text>
<text x="206.5" y="83.9" font-size="12" fill="#ffffff" font-weight="bold" text-anchor="start" textLength="6.5" lengthAdjust="spacingAndGlyphs" stroke="#ffffff" stroke-width="0.15">1</text>
<g clip-path="url(#clipMacd)">
<rect x="21" y="595" width="1" height="3" fill="#c0c0c0"/>
<rect x="29" y="593" width="1" height="5" fill="#c0c0c0"/>
<rect x="37" y="588" width="1" height="10" fill="#c0c0c0"/>
<rect x="45" y="589" width="1" height="9" fill="#c0c0c0"/>
<rect x="53" y="584" width="1" height="14" fill="#c0c0c0"/>
<rect x="61" y="581" width="1" height="17" fill="#c0c0c0"/>
<rect x="69" y="579" width="1" height="19" fill="#c0c0c0"/>
<rect x="77" y="578" width="1" height="20" fill="#c0c0c0"/>
<rect x="85" y="577" width="1" height="21" fill="#c0c0c0"/>
<rect x="93" y="579" width="1" height="19" fill="#c0c0c0"/>
<rect x="101" y="579" width="1" height="19" fill="#c0c0c0"/>
<rect x="109" y="582" width="1" height="16" fill="#c0c0c0"/>
<rect x="117" y="587" width="1" height="11" fill="#c0c0c0"/>
<rect x="125" y="597" width="1" height="3" fill="#c0c0c0"/>
<rect x="133" y="597" width="1" height="12" fill="#c0c0c0"/>
<rect x="141" y="597" width="1" height="17" fill="#c0c0c0"/>
<rect x="149" y="597" width="1" height="20" fill="#c0c0c0"/>
<rect x="157" y="597" width="1" height="21" fill="#c0c0c0"/>
<rect x="165" y="597" width="1" height="23" fill="#c0c0c0"/>
<rect x="173" y="597" width="1" height="27" fill="#c0c0c0"/>
<rect x="181" y="597" width="1" height="31" fill="#c0c0c0"/>
<rect x="189" y="597" width="1" height="32" fill="#c0c0c0"/>
<rect x="197" y="597" width="1" height="37" fill="#c0c0c0"/>
<rect x="205" y="597" width="1" height="38" fill="#c0c0c0"/>
<rect x="213" y="597" width="1" height="37" fill="#c0c0c0"/>
<rect x="221" y="597" width="1" height="38" fill="#c0c0c0"/>
<rect x="229" y="597" width="1" height="38" fill="#c0c0c0"/>
<rect x="237" y="597" width="1" height="37" fill="#c0c0c0"/>
<rect x="245" y="597" width="1" height="37" fill="#c0c0c0"/>
<rect x="253" y="597" width="1" height="40" fill="#c0c0c0"/>
<rect x="261" y="597" width="1" height="43" fill="#c0c0c0"/>
<rect x="269" y="597" width="1" height="45" fill="#c0c0c0"/>
<rect x="277" y="597" width="1" height="50" fill="#c0c0c0"/>
<rect x="285" y="597" width="1" height="55" fill="#c0c0c0"/>
<rect x="293" y="597" width="1" height="55" fill="#c0c0c0"/>
<rect x="301" y="597" width="1" height="53" fill="#c0c0c0"/>
<rect x="309" y="597" width="1" height="54" fill="#c0c0c0"/>
<rect x="317" y="597" width="1" height="55" fill="#c0c0c0"/>
<rect x="325" y="597" width="1" height="53" fill="#c0c0c0"/>
<rect x="333" y="597" width="1" height="48" fill="#c0c0c0"/>
<rect x="341" y="597" width="1" height="44" fill="#c0c0c0"/>
<rect x="349" y="597" width="1" height="41" fill="#c0c0c0"/>
<rect x="357" y="597" width="1" height="38" fill="#c0c0c0"/>
<rect x="365" y="597" width="1" height="36" fill="#c0c0c0"/>
<rect x="373" y="597" width="1" height="35" fill="#c0c0c0"/>
<rect x="381" y="597" width="1" height="30" fill="#c0c0c0"/>
<rect x="389" y="597" width="1" height="28" fill="#c0c0c0"/>
<rect x="397" y="597" width="1" height="22" fill="#c0c0c0"/>
<rect x="405" y="597" width="1" height="15" fill="#c0c0c0"/>
<rect x="413" y="597" width="1" height="11" fill="#c0c0c0"/>
<rect x="421" y="597" width="1" height="8" fill="#c0c0c0"/>
<rect x="429" y="597" width="1" height="2" fill="#c0c0c0"/>
<rect x="437" y="595" width="1" height="3" fill="#c0c0c0"/>
<rect x="445" y="595" width="1" height="3" fill="#c0c0c0"/>
<rect x="453" y="596" width="1" height="2" fill="#c0c0c0"/>
<rect x="461" y="597" width="1" height="3" fill="#c0c0c0"/>
<rect x="469" y="597" width="1" height="7" fill="#c0c0c0"/>
<rect x="477" y="597" width="1" height="14" fill="#c0c0c0"/>
<rect x="485" y="597" width="1" height="18" fill="#c0c0c0"/>
<rect x="493" y="597" width="1" height="24" fill="#c0c0c0"/>
<rect x="501" y="597" width="1" height="25" fill="#c0c0c0"/>
<rect x="509" y="597" width="1" height="26" fill="#c0c0c0"/>
<rect x="517" y="597" width="1" height="23" fill="#c0c0c0"/>
<rect x="525" y="597" width="1" height="19" fill="#c0c0c0"/>
<rect x="533" y="597" width="1" height="15" fill="#c0c0c0"/>
<rect x="541" y="597" width="1" height="10" fill="#c0c0c0"/>
<rect x="549" y="597" width="1" height="6" fill="#c0c0c0"/>
<rect x="565" y="591" width="1" height="7" fill="#c0c0c0"/>
<rect x="573" y="585" width="1" height="13" fill="#c0c0c0"/>
<rect x="581" y="581" width="1" height="17" fill="#c0c0c0"/>
<rect x="589" y="582" width="1" height="16" fill="#c0c0c0"/>
<rect x="597" y="581" width="1" height="17" fill="#c0c0c0"/>
<rect x="605" y="577" width="1" height="21" fill="#c0c0c0"/>
<rect x="613" y="575" width="1" height="23" fill="#c0c0c0"/>
<rect x="621" y="577" width="1" height="21" fill="#c0c0c0"/>
<rect x="629" y="579" width="1" height="19" fill="#c0c0c0"/>
<rect x="637" y="582" width="1" height="16" fill="#c0c0c0"/>
<rect x="645" y="588" width="1" height="10" fill="#c0c0c0"/>
<rect x="653" y="590" width="1" height="8" fill="#c0c0c0"/>
<rect x="661" y="591" width="1" height="7" fill="#c0c0c0"/>
<rect x="669" y="587" width="1" height="11" fill="#c0c0c0"/>
<rect x="677" y="584" width="1" height="14" fill="#c0c0c0"/>
<rect x="685" y="581" width="1" height="17" fill="#c0c0c0"/>
<rect x="693" y="580" width="1" height="18" fill="#c0c0c0"/>
<rect x="701" y="580" width="1" height="18" fill="#c0c0c0"/>
<rect x="709" y="576" width="1" height="22" fill="#c0c0c0"/>
<rect x="717" y="574" width="1" height="24" fill="#c0c0c0"/>
<rect x="725" y="573" width="1" height="25" fill="#c0c0c0"/>
<rect x="733" y="574" width="1" height="24" fill="#c0c0c0"/>
<rect x="741" y="578" width="1" height="20" fill="#c0c0c0"/>
<rect x="749" y="583" width="1" height="15" fill="#c0c0c0"/>
<rect x="757" y="590" width="1" height="8" fill="#c0c0c0"/>
<rect x="765" y="597" width="1" height="2" fill="#c0c0c0"/>
<rect x="773" y="597" width="1" height="9" fill="#c0c0c0"/>
<rect x="781" y="597" width="1" height="16" fill="#c0c0c0"/>
<rect x="789" y="597" width="1" height="22" fill="#c0c0c0"/>
<rect x="797" y="597" width="1" height="30" fill="#c0c0c0"/>
<rect x="805" y="597" width="1" height="39" fill="#c0c0c0"/>
<rect x="813" y="597" width="1" height="47" fill="#c0c0c0"/>
<rect x="821" y="597" width="1" height="52" fill="#c0c0c0"/>
<rect x="829" y="597" width="1" height="59" fill="#c0c0c0"/>
<rect x="837" y="597" width="1" height="63" fill="#c0c0c0"/>
<rect x="845" y="597" width="1" height="66" fill="#c0c0c0"/>
<rect x="853" y="597" width="1" height="64" fill="#c0c0c0"/>
<rect x="861" y="597" width="1" height="62" fill="#c0c0c0"/>
<rect x="869" y="597" width="1" height="62" fill="#c0c0c0"/>
<rect x="877" y="597" width="1" height="63" fill="#c0c0c0"/>
<rect x="885" y="597" width="1" height="59" fill="#c0c0c0"/>
<rect x="893" y="597" width="1" height="59" fill="#c0c0c0"/>
<rect x="901" y="597" width="1" height="57" fill="#c0c0c0"/>
<rect x="909" y="597" width="1" height="54" fill="#c0c0c0"/>
<rect x="917" y="597" width="1" height="50" fill="#c0c0c0"/>
<rect x="925" y="597" width="1" height="50" fill="#c0c0c0"/>
<rect x="933" y="597" width="1" height="47" fill="#c0c0c0"/>
<rect x="941" y="597" width="1" height="44" fill="#c0c0c0"/>
<rect x="949" y="597" width="1" height="43" fill="#c0c0c0"/>
<rect x="957" y="597" width="1" height="43" fill="#c0c0c0"/>
<rect x="965" y="597" width="1" height="46" fill="#c0c0c0"/>
<rect x="973" y="597" width="1" height="42" fill="#c0c0c0"/>
<rect x="981" y="597" width="1" height="40" fill="#c0c0c0"/>
<rect x="989" y="597" width="1" height="39" fill="#c0c0c0"/>
<rect x="997" y="597" width="1" height="39" fill="#c0c0c0"/>
<rect x="1005" y="597" width="1" height="38" fill="#c0c0c0"/>
<rect x="1013" y="597" width="1" height="38" fill="#c0c0c0"/>
<rect x="1021" y="597" width="1" height="38" fill="#c0c0c0"/>
<rect x="1029" y="597" width="1" height="34" fill="#c0c0c0"/>
<rect x="1037" y="597" width="1" height="27" fill="#c0c0c0"/>
<rect x="1045" y="597" width="1" height="20" fill="#c0c0c0"/>
<rect x="1053" y="597" width="1" height="11" fill="#c0c0c0"/>
<rect x="1061" y="597" width="1" height="4" fill="#c0c0c0"/>
<rect x="1069" y="593" width="1" height="5" fill="#c0c0c0"/>
<rect x="1077" y="588" width="1" height="10" fill="#c0c0c0"/>
<rect x="1085" y="583" width="1" height="15" fill="#c0c0c0"/>
<rect x="1093" y="580" width="1" height="18" fill="#c0c0c0"/>
<rect x="1101" y="576" width="1" height="22" fill="#c0c0c0"/>
<rect x="1109" y="574" width="1" height="24" fill="#c0c0c0"/>
<rect x="1117" y="573" width="1" height="25" fill="#c0c0c0"/>
<polyline points="5.5,597.6 13.5,597.6 21.5,597.5 29.5,596.9 37.5,596.0 45.5,595.0 53.5,593.3 61.5,591.4 69.5,589.4 77.5,587.3 85.5,585.1 93.5,583.2 101.5,581.7 109.5,581.0 117.5,580.8 125.5,582.5 133.5,585.5 141.5,589.2 149.5,593.4 157.5,597.9 165.5,602.3 173.5,607.1 181.5,612.2 189.5,616.7 197.5,620.5 205.5,623.4 213.5,625.6 221.5,627.6 229.5,629.5 237.5,631.1 245.5,632.2 253.5,633.2 261.5,634.4 269.5,635.3 277.5,636.6 285.5,638.5 293.5,640.5 301.5,642.1 309.5,644.0 317.5,646.1 325.5,647.5 333.5,648.1 341.5,648.0 349.5,647.1 357.5,645.2 365.5,643.1 373.5,641.0 381.5,638.3 389.5,635.3 397.5,631.8 405.5,628.0 413.5,624.4 421.5,620.7 429.5,616.7 437.5,612.6 445.5,608.7 453.5,605.3 461.5,602.6 469.5,600.9 477.5,600.8 485.5,601.6 493.5,603.4 501.5,605.9 509.5,608.8 517.5,611.4 525.5,613.5 533.5,614.9 541.5,615.2 549.5,614.3 557.5,612.4 565.5,609.2 573.5,605.2 581.5,600.7 589.5,596.7 597.5,592.9 605.5,589.1 613.5,585.7 621.5,583.0 629.5,581.1 637.5,580.1 645.5,580.4 653.5,581.5 661.5,582.5 669.5,583.1 677.5,583.9 685.5,584.5 693.5,584.8 701.5,584.9 709.5,584.2 717.5,582.7 725.5,580.8 733.5,578.9 741.5,578.0 749.5,577.9 757.5,578.8 765.5,580.9 773.5,583.6 781.5,587.6 789.5,592.5 797.5,598.3 805.5,605.0 813.5,612.1 821.5,619.4 829.5,626.6 837.5,633.4 845.5,639.7 853.5,645.1 861.5,649.5 869.5,653.1 877.5,655.8 885.5,657.1 893.5,657.9 901.5,657.7 909.5,656.6 917.5,654.8 925.5,653.3 933.5,651.7 941.5,649.7 949.5,647.5 957.5,645.7 965.5,644.3 973.5,642.6 981.5,641.0 989.5,639.8 997.5,638.5 1005.5,637.5 1013.5,636.8 1021.5,636.3 1029.5,635.3 1037.5,633.2 1045.5,630.7 1053.5,627.5 1061.5,623.6 1069.5,619.0 1077.5,613.8 1085.5,608.2 1093.5,602.2 1101.5,596.2 1109.5,590.8 1117.5,586.1" fill="none" stroke="#ff0000" stroke-width="1.1" stroke-dasharray="3,3" shape-rendering="crispEdges"/>
</g>
<text x="9.4" y="578.8" font-size="9.3" fill="#000" font-weight="normal" text-anchor="start" textLength="146.6" lengthAdjust="spacingAndGlyphs" stroke="#000" stroke-width="0.15">MACD(12,26,9) 0.002226 0.001031</text>
<rect x="1421" y="568" width="3" height="1" fill="#000"/>
<text x="1424.5" y="577" font-size="10" fill="#000" font-weight="normal" text-anchor="start" textLength="39.2" lengthAdjust="spacingAndGlyphs" stroke="#000" stroke-width="0.15">0.002633</text>
<rect x="1421" y="597" width="3" height="1" fill="#000"/>
<text x="1424.5" y="601.2" font-size="10" fill="#000" font-weight="normal" text-anchor="start" textLength="18.3" lengthAdjust="spacingAndGlyphs" stroke="#000" stroke-width="0.15">0.00</text>
<text x="1424.5" y="666.8" font-size="10" fill="#000" font-weight="normal" text-anchor="start" textLength="42.7" lengthAdjust="spacingAndGlyphs" stroke="#000" stroke-width="0.15">-0.006321</text>
<g clip-path="url(#clipRsi)">
<line x1="6" y1="711.5" x2="1420" y2="711.5" stroke="#c0c0c0" stroke-width="1" stroke-dasharray="3,3"/>
<line x1="6" y1="762.5" x2="1420" y2="762.5" stroke="#c0c0c0" stroke-width="1" stroke-dasharray="3,3"/>
<polyline points="5.5,736.5 13.5,737.1 21.5,732.2 29.5,731.0 37.5,723.6 45.5,734.0 53.5,725.5 61.5,725.5 69.5,725.5 77.5,727.4 85.5,726.5 93.5,731.8 101.5,730.9 109.5,736.2 117.5,744.6 125.5,758.2 133.5,757.0 141.5,751.2 149.5,750.4 157.5,747.1 165.5,748.4 173.5,754.5 181.5,757.8 189.5,751.0 197.5,757.7 205.5,752.3 213.5,748.6 221.5,751.4 229.5,752.1 237.5,749.1 245.5,751.9 253.5,758.4 261.5,759.4 269.5,761.1 277.5,765.8 285.5,768.8 293.5,757.8 301.5,752.6 309.5,758.3 317.5,759.1 325.5,752.8 333.5,744.4 341.5,745.0 349.5,746.8 357.5,745.2 365.5,746.7 373.5,749.6 381.5,739.7 389.5,742.2 397.5,732.1 405.5,727.7 413.5,733.3 421.5,732.2 429.5,725.7 437.5,728.4 445.5,737.0 453.5,737.1 461.5,744.4 469.5,747.9 477.5,756.0 485.5,752.4 493.5,756.5 501.5,748.5 509.5,747.5 517.5,738.7 525.5,737.3 533.5,732.9 541.5,729.0 549.5,730.5 557.5,725.2 565.5,721.7 573.5,718.9 581.5,718.5 589.5,734.7 597.5,728.6 605.5,722.2 613.5,724.0 621.5,734.6 629.5,734.0 637.5,736.3 645.5,745.5 653.5,738.3 661.5,735.5 669.5,726.1 677.5,728.1 685.5,724.6 693.5,729.6 701.5,731.2 709.5,721.3 717.5,727.1 725.5,727.0 733.5,730.3 741.5,737.6 749.5,740.8 757.5,745.8 765.5,752.6 773.5,752.8 781.5,753.9 789.5,757.1 797.5,761.4 805.5,766.4 813.5,767.2 821.5,767.5 829.5,770.7 837.5,770.7 845.5,771.1 853.5,754.1 861.5,756.9 869.5,759.2 877.5,762.1 885.5,750.3 893.5,756.7 901.5,752.1 909.5,749.4 917.5,748.8 925.5,753.9 933.5,749.1 941.5,746.2 949.5,751.5 957.5,752.4 965.5,759.2 973.5,743.5 981.5,746.2 989.5,748.6 997.5,749.3 1005.5,750.6 1013.5,750.9 1021.5,753.6 1029.5,739.8 1037.5,732.7 1045.5,729.9 1053.5,723.7 1061.5,724.4 1069.5,721.3 1077.5,723.1 1085.5,719.9 1093.5,723.7 1101.5,720.3 1109.5,721.4 1117.5,722.8" fill="none" stroke="#1e90ff" stroke-width="1" shape-rendering="crispEdges"/>
</g>
<text x="9.5" y="683.6" font-size="9.3" fill="#000" font-weight="normal" text-anchor="start" textLength="67.3" lengthAdjust="spacingAndGlyphs" stroke="#000" stroke-width="0.15">RSI(14) 61.3191</text>
<rect x="1421" y="672" width="3" height="1" fill="#000"/>
<text x="1424" y="682" font-size="10" fill="#000" font-weight="normal" text-anchor="start" textLength="15.75" lengthAdjust="spacingAndGlyphs" stroke="#000" stroke-width="0.15">100</text>
<rect x="1421" y="711" width="3" height="1" fill="#000"/>
<text x="1424" y="715" font-size="10" fill="#000" font-weight="normal" text-anchor="start" textLength="10.5" lengthAdjust="spacingAndGlyphs" stroke="#000" stroke-width="0.15">70</text>
<rect x="1421" y="762" width="3" height="1" fill="#000"/>
<text x="1424" y="766" font-size="10" fill="#000" font-weight="normal" text-anchor="start" textLength="10.5" lengthAdjust="spacingAndGlyphs" stroke="#000" stroke-width="0.15">30</text>
<rect x="1421" y="800" width="3" height="1" fill="#000"/>
<text x="1424" y="798" font-size="10" fill="#000" font-weight="normal" text-anchor="start" textLength="5.25" lengthAdjust="spacingAndGlyphs" stroke="#000" stroke-width="0.15">0</text>
<rect x="5" y="802" width="1" height="3" fill="#000"/>
<text x="4.1" y="813.8" font-size="9.6" fill="#000" font-weight="normal" text-anchor="start" textLength="44.99" lengthAdjust="spacingAndGlyphs" stroke="#000" stroke-width="0.15">5 Apr 2019</text>
<rect x="69" y="802" width="1" height="3" fill="#000"/>
<text x="68.1" y="813.8" font-size="9.6" fill="#000" font-weight="normal" text-anchor="start" textLength="50.16" lengthAdjust="spacingAndGlyphs" stroke="#000" stroke-width="0.15">15 Apr 2019</text>
<rect x="133" y="802" width="1" height="3" fill="#000"/>
<text x="132.1" y="813.8" font-size="9.6" fill="#000" font-weight="normal" text-anchor="start" textLength="50.16" lengthAdjust="spacingAndGlyphs" stroke="#000" stroke-width="0.15">25 Apr 2019</text>
<rect x="197" y="802" width="1" height="3" fill="#000"/>
<text x="196.1" y="813.8" font-size="9.6" fill="#000" font-weight="normal" text-anchor="start" textLength="48.6" lengthAdjust="spacingAndGlyphs" stroke="#000" stroke-width="0.15">5 May 2019</text>
<rect x="261" y="802" width="1" height="3" fill="#000"/>
<text x="260.1" y="813.8" font-size="9.6" fill="#000" font-weight="normal" text-anchor="start" textLength="53.77" lengthAdjust="spacingAndGlyphs" stroke="#000" stroke-width="0.15">14 May 2019</text>
<rect x="325" y="802" width="1" height="3" fill="#000"/>
<text x="324.1" y="813.8" font-size="9.6" fill="#000" font-weight="normal" text-anchor="start" textLength="53.77" lengthAdjust="spacingAndGlyphs" stroke="#000" stroke-width="0.15">23 May 2019</text>
<rect x="389" y="802" width="1" height="3" fill="#000"/>
<text x="388.1" y="813.8" font-size="9.6" fill="#000" font-weight="normal" text-anchor="start" textLength="46.02" lengthAdjust="spacingAndGlyphs" stroke="#000" stroke-width="0.15">2 Jun 2019</text>
<rect x="453" y="802" width="1" height="3" fill="#000"/>
<text x="452.1" y="813.8" font-size="9.6" fill="#000" font-weight="normal" text-anchor="start" textLength="50.51" lengthAdjust="spacingAndGlyphs" stroke="#000" stroke-width="0.15">11 Jun 2019</text>
<rect x="517" y="802" width="1" height="3" fill="#000"/>
<text x="516.1" y="813.8" font-size="9.6" fill="#000" font-weight="normal" text-anchor="start" textLength="51.2" lengthAdjust="spacingAndGlyphs" stroke="#000" stroke-width="0.15">20 Jun 2019</text>
<rect x="581" y="802" width="1" height="3" fill="#000"/>
<text x="580.1" y="813.8" font-size="9.6" fill="#000" font-weight="normal" text-anchor="start" textLength="51.2" lengthAdjust="spacingAndGlyphs" stroke="#000" stroke-width="0.15">30 Jun 2019</text>
<rect x="645" y="802" width="1" height="3" fill="#000"/>
<text x="644.1" y="813.8" font-size="9.6" fill="#000" font-weight="normal" text-anchor="start" textLength="42.92" lengthAdjust="spacingAndGlyphs" stroke="#000" stroke-width="0.15">9 Jul 2019</text>
<rect x="709" y="802" width="1" height="3" fill="#000"/>
<text x="708.1" y="813.8" font-size="9.6" fill="#000" font-weight="normal" text-anchor="start" textLength="48.09" lengthAdjust="spacingAndGlyphs" stroke="#000" stroke-width="0.15">18 Jul 2019</text>
<rect x="773" y="802" width="1" height="3" fill="#000"/>
<text x="772.1" y="813.8" font-size="9.6" fill="#000" font-weight="normal" text-anchor="start" textLength="48.09" lengthAdjust="spacingAndGlyphs" stroke="#000" stroke-width="0.15">28 Jul 2019</text>
<rect x="837" y="802" width="1" height="3" fill="#000"/>
<text x="836.1" y="813.8" font-size="9.6" fill="#000" font-weight="normal" text-anchor="start" textLength="47.06" lengthAdjust="spacingAndGlyphs" stroke="#000" stroke-width="0.15">6 Aug 2019</text>
<rect x="901" y="802" width="1" height="3" fill="#000"/>
<text x="900.1" y="813.8" font-size="9.6" fill="#000" font-weight="normal" text-anchor="start" textLength="52.24" lengthAdjust="spacingAndGlyphs" stroke="#000" stroke-width="0.15">15 Aug 2019</text>
<rect x="965" y="802" width="1" height="3" fill="#000"/>
<text x="964.1" y="813.8" font-size="9.6" fill="#000" font-weight="normal" text-anchor="start" textLength="52.24" lengthAdjust="spacingAndGlyphs" stroke="#000" stroke-width="0.15">25 Aug 2019</text>
<rect x="1029" y="802" width="1" height="3" fill="#000"/>
<text x="1028.1" y="813.8" font-size="9.6" fill="#000" font-weight="normal" text-anchor="start" textLength="47.58" lengthAdjust="spacingAndGlyphs" stroke="#000" stroke-width="0.15">3 Sep 2019</text>
<rect x="1093" y="802" width="1" height="3" fill="#000"/>
<text x="1092.1" y="813.8" font-size="9.6" fill="#000" font-weight="normal" text-anchor="start" textLength="52.75" lengthAdjust="spacingAndGlyphs" stroke="#000" stroke-width="0.15">12 Sep 2019</text>
<rect x="2" y="822" width="1457" height="1" fill="#e3e3e3"/>
<rect x="0" y="824" width="1459" height="1" fill="#000"/>
<rect x="0" y="825" width="1459" height="19" fill="#f0f0f0"/>
<rect x="2" y="825" width="1457" height="1" fill="#ffffff"/>
<rect x="2" y="825" width="1" height="18" fill="#ffffff"/>
<rect x="0" y="825" width="1" height="18" fill="#a8a8a8"/>
<rect x="1" y="825" width="1" height="18" fill="#7a7a7a"/>
<rect x="0" y="843" width="1459" height="1" fill="#ffffff"/>
<rect x="115" y="824" width="107" height="19" fill="#000"/>
<rect x="116" y="824" width="105" height="18" fill="#fff"/>
<text x="17" y="838.6" font-size="12" fill="#6d6d6d" font-weight="normal" text-anchor="start" textLength="85" lengthAdjust="spacingAndGlyphs">EURUSD-,Daily</text>
<text x="124.5" y="838.6" font-size="12" fill="#000" font-weight="normal" text-anchor="start" textLength="86.3" lengthAdjust="spacingAndGlyphs" stroke="#000" stroke-width="0.15">AUDUSD-,Daily</text>
<text x="234" y="838.6" font-size="12" fill="#6d6d6d" font-weight="normal" text-anchor="start" textLength="85" lengthAdjust="spacingAndGlyphs">USDCHF-,Daily</text>
<text x="341" y="838.6" font-size="12" fill="#6d6d6d" font-weight="normal" text-anchor="start" textLength="86" lengthAdjust="spacingAndGlyphs">USDCAD-,Daily</text>
<text x="450" y="838.6" font-size="12" fill="#6d6d6d" font-weight="normal" text-anchor="start" textLength="88" lengthAdjust="spacingAndGlyphs">USDCNH-,Daily</text>
<text x="561" y="838.6" font-size="12" fill="#6d6d6d" font-weight="normal" text-anchor="start" textLength="97" lengthAdjust="spacingAndGlyphs">EURCHF-,Weekly</text>
<text x="681" y="838.6" font-size="12" fill="#6d6d6d" font-weight="normal" text-anchor="start" textLength="86" lengthAdjust="spacingAndGlyphs">XAUUSD-,Daily</text>
<text x="789" y="838.6" font-size="12" fill="#6d6d6d" font-weight="normal" text-anchor="start" textLength="73" lengthAdjust="spacingAndGlyphs">GBPUSD-,H1</text>
<text x="885" y="838.6" font-size="12" fill="#6d6d6d" font-weight="normal" text-anchor="start" textLength="57" lengthAdjust="spacingAndGlyphs">UKOil-,H1</text>
<text x="964" y="838.6" font-size="12" fill="#6d6d6d" font-weight="normal" text-anchor="start" textLength="83" lengthAdjust="spacingAndGlyphs">USDX-,Weekly</text>
<text x="1069" y="838.6" font-size="12" fill="#6d6d6d" font-weight="normal" text-anchor="start" textLength="97" lengthAdjust="spacingAndGlyphs">EURCHF-,Weekly</text>
<rect x="330" y="827" width="1" height="14" fill="#7a7a7a"/>
<rect x="439" y="827" width="1" height="14" fill="#7a7a7a"/>
<rect x="550" y="827" width="1" height="14" fill="#7a7a7a"/>
<rect x="670" y="827" width="1" height="14" fill="#7a7a7a"/>
<rect x="778" y="827" width="1" height="14" fill="#7a7a7a"/>
<rect x="874" y="827" width="1" height="14" fill="#7a7a7a"/>
<rect x="954" y="827" width="1" height="14" fill="#7a7a7a"/>
<rect x="1058" y="827" width="1" height="14" fill="#7a7a7a"/>
<rect x="1177" y="827" width="1" height="14" fill="#7a7a7a"/>
<polygon points="1439,830 1439,836 1436,833" fill="#8c8c8c"/>
<polygon points="1455,830 1455,836 1458,833" fill="#8c8c8c"/>
</svg></body></html>
